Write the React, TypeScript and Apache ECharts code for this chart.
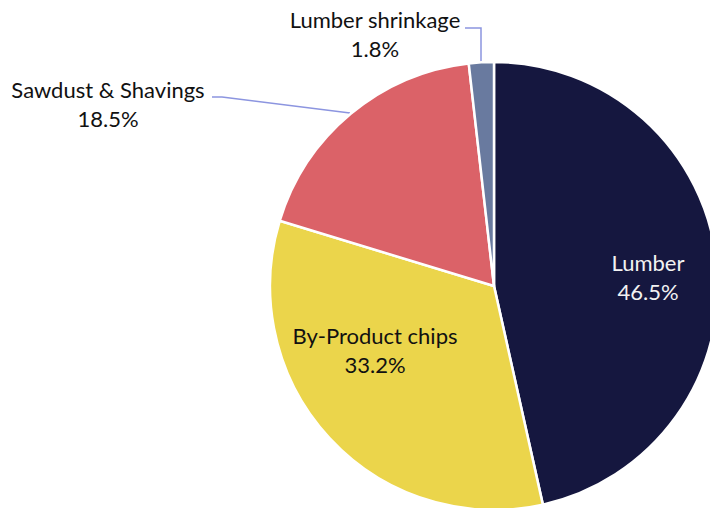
import React, { useEffect, useRef } from "react";
import * as echarts from "echarts";

const categories = ["Lumber", "By-Product chips", "Sawdust & Shavings", "Lumber shrinkage"];
const values = [46.5, 33.2, 18.5, 1.8];
const colors = ["#15173f", "#ebd54b", "#db6268", "#697a9f"];
const labelColors = ["#f2f2f2", "#111111", "#111111", "#111111"];

export default function App() {
  const ref = useRef<HTMLDivElement>(null);
  useEffect(() => {
    if (!ref.current) return;
    const chart = echarts.init(ref.current, null, { renderer: "svg" });
    const labelPos: Record<number, [number, number]> = {
      0: [648, 277],
      1: [375, 350],
      2: [108, 104],
      3: [375, 34],
    };
    chart.setOption({
      animation: false,
      backgroundColor: "#ffffff",
      series: [
        {
          type: "pie",
          center: [494, 286],
          radius: 224,
          startAngle: 90,
          clockwise: true,
          itemStyle: { borderColor: "#ffffff", borderWidth: 2.5 },
          label: {
            show: true,
            formatter: (p: any) => `${p.name}\n${p.value.toFixed(1)}%`,
            fontFamily: "Lato",
            fontSize: 22,
            lineHeight: 29,
            align: "center",
          },
          labelLine: {
            show: true,
            lineStyle: { color: "#8c95e0", width: 1.5 },
            smooth: false,
          },
          labelLayout: (params: any) => {
            const i = params.dataIndex;
            const [x, y] = labelPos[i];
            const out: any = { x, y, align: "center", verticalAlign: "middle" };
            if (i === 2) {
              out.labelLinePoints = [[350, 113], [222, 97], [212, 97]];
            } else if (i === 3) {
              out.labelLinePoints = [[481, 62], [481, 28], [465, 28]];
            }
            return out;
          },
          data: categories.map((name, i) => ({
            name,
            value: values[i],
            itemStyle: { color: colors[i] },
            label: {
              color: labelColors[i],
              position: i < 2 ? "inside" : "outside",
            },
            labelLine: { show: i >= 2 },
          })),
        },
      ],
    });
    return () => chart.dispose();
  }, []);
  return (
    <div
      ref={ref}
      style={{ position: "fixed", left: 0, top: 0, width: 710, height: 508 }}
    />
  );
}
